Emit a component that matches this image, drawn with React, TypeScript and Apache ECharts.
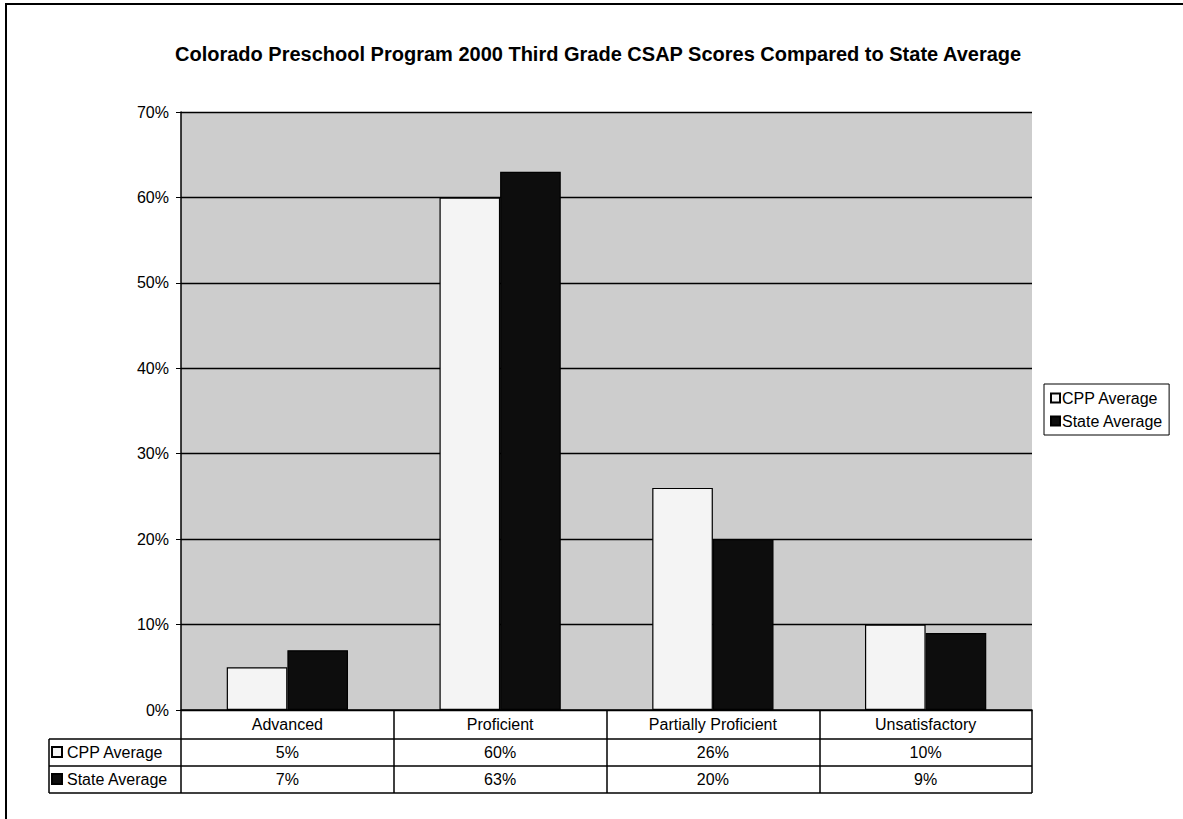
import React, { useEffect, useRef } from "react";
import * as echarts from "echarts";

const TITLE = "Colorado Preschool Program 2000 Third Grade CSAP Scores Compared to State Average";
const categories = ["Advanced", "Proficient", "Partially Proficient", "Unsatisfactory"];
const seriesNames = ["CPP Average", "State Average"];
const cppValues = [5, 60, 26, 10];
const stateValues = [7, 63, 20, 9];
const yTicks = [0, 10, 20, 30, 40, 50, 60, 70];

const FONT = "'Liberation Sans', Arial, Helvetica, sans-serif";

export default function App() {
  const ref = useRef<HTMLDivElement>(null);
  useEffect(() => {
    if (!ref.current) return;
    const chart = echarts.init(ref.current, undefined, { renderer: "svg" });
    const W = 1183;
    const H = 819;
    const gl = 181, gr = 1032, gt = 112, gb = 710;
    const tableLeft = 49;
    const rowLines = [739, 766, 793];
    const pct = (v: number) => v + "%";
    const graphic: any[] = [
      {
        type: "rect",
        shape: { x: 6, y: 4, width: W + 20, height: H + 20 },
        style: { fill: "none", stroke: "#000", lineWidth: 2 },
        silent: true,
      },
    ];
    rowLines.forEach((y) => {
      graphic.push({
        type: "line",
        shape: { x1: tableLeft, y1: y, x2: gr, y2: y },
        style: { stroke: "#000", lineWidth: 1.5 },
        silent: true,
      });
    });
    graphic.push({
      type: "line",
      shape: { x1: tableLeft, y1: rowLines[0], x2: tableLeft, y2: rowLines[2] },
      style: { stroke: "#000", lineWidth: 1.5 },
      silent: true,
    });

    const labelStyle = { fontFamily: FONT, fontSize: 16, color: "#000" };

    const option: any = {
      animation: false,
      backgroundColor: "#fff",
      textStyle: { fontFamily: FONT, color: "#000" },
      title: {
        text: TITLE,
        left: 175,
        top: 44,
        padding: 0,
        textStyle: { fontFamily: FONT, fontSize: 20, fontWeight: "bold", color: "#000" },
      },
      legend: [
        {
          orient: "vertical",
          left: 1044,
          top: 384,
          data: seriesNames,
          icon: "rect",
          itemWidth: 9,
          itemHeight: 9,
          itemGap: 7,
          padding: [6, 6, 6, 6],
          borderColor: "#000",
          borderWidth: 1,
          textStyle: { ...labelStyle, padding: [0, 0, 0, -3] },
        },
        {
          orient: "vertical",
          left: 51,
          top: 744,
          data: seriesNames,
          icon: "rect",
          itemWidth: 10,
          itemHeight: 10,
          itemGap: 11,
          padding: 0,
          textStyle: { ...labelStyle },
        },
      ],
      grid: {
        left: gl,
        right: W - gr,
        top: gt,
        bottom: H - gb,
        show: true,
        backgroundColor: "#cdcdcd",
        borderWidth: 0,
      },
      xAxis: [
        {
          type: "category",
          data: categories,
          position: "bottom",
          axisLine: { show: true, lineStyle: { color: "#000", width: 1.5 } },
          axisTick: { show: true, length: rowLines[2] - gb, lineStyle: { color: "#000", width: 1.5 } },
          axisLabel: { ...labelStyle, margin: 6 },
        },
        {
          type: "category",
          data: cppValues.map(pct),
          position: "bottom",
          offset: rowLines[0] - gb,
          axisLine: { show: false },
          axisTick: { show: false },
          axisLabel: { ...labelStyle, margin: 5 },
        },
        {
          type: "category",
          data: stateValues.map(pct),
          position: "bottom",
          offset: rowLines[1] - gb,
          axisLine: { show: false },
          axisTick: { show: false },
          axisLabel: { ...labelStyle, margin: 5 },
        },
      ],
      yAxis: {
        type: "value",
        min: yTicks[0],
        max: yTicks[yTicks.length - 1],
        interval: 10,
        axisLine: { show: true, lineStyle: { color: "#000", width: 1.5 } },
        axisTick: { show: true, length: 5, lineStyle: { color: "#000" } },
        axisLabel: { ...labelStyle, formatter: "{value}%", margin: 12 },
        splitLine: { show: true, lineStyle: { color: "#000", width: 1.3 } },
      },
      series: [
        {
          name: seriesNames[0],
          type: "bar",
          xAxisIndex: 0,
          data: cppValues,
          barGap: "0%",
          barCategoryGap: "43%",
          itemStyle: { color: "#f4f4f4", borderColor: "#000", borderWidth: 1.2 },
        },
        {
          name: seriesNames[1],
          type: "bar",
          xAxisIndex: 0,
          data: stateValues,
          barGap: "0%",
          barCategoryGap: "43%",
          itemStyle: { color: "#0d0d0d", borderColor: "#000", borderWidth: 1.2 },
        },
      ],
      graphic,
    };
    chart.setOption(option);
    return () => chart.dispose();
  }, []);
  return (
    <div
      ref={ref}
      style={{ position: "fixed", left: 0, top: 0, width: 1183, height: 819, background: "#fff" }}
    />
  );
}
